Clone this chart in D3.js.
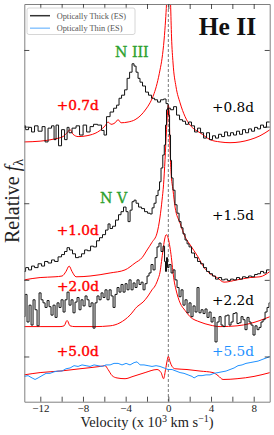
<!DOCTYPE html>
<html>
<head>
<meta charset="utf-8">
<script src="https://cdn.jsdelivr.net/npm/d3@7"></script>
<style>
  html, body { margin: 0; padding: 0; background: #fff; }
  svg { display: block; }
</style>
</head>
<body>
<div id="chart"></div>
<script>
// velocity in 10^3 km/s, relative flux (offset per epoch)
const thick08 = [[-13.52,4.01],[-13.24,3.96],[-12.96,3.99],[-12.68,3.93],[-12.40,4.01],[-12.02,3.94],[-11.65,4.00],[-11.46,3.80],[-11.09,3.98],[-10.80,4.01],[-10.62,3.83],[-10.43,4.02],[-10.15,3.75],[-9.87,3.96],[-9.58,3.83],[-9.40,3.99],[-9.21,3.92],[-8.84,3.98],[-8.46,4.01],[-8.18,3.89],[-7.80,4.02],[-7.52,3.93],[-7.15,4.00],[-6.87,4.03],[-6.40,4.02],[-6.12,3.95],[-5.93,3.89],[-5.65,4.13],[-5.27,4.19],[-4.99,4.24],[-4.71,4.28],[-4.53,4.37],[-4.24,4.41],[-3.96,4.48],[-3.77,4.63],[-3.49,4.71],[-3.31,4.82],[-3.12,4.79],[-2.93,4.71],[-2.75,4.63],[-2.56,4.58],[-2.28,4.53],[-2.00,4.45],[-1.72,4.41],[-1.43,4.37],[-1.15,4.35],[-0.87,4.32],[-0.59,4.35],[-0.31,4.36],[-0.12,4.30],[0.07,4.24],[0.35,4.22],[0.63,4.26],[0.91,4.15],[1.19,4.09],[1.47,4.07],[1.75,4.03],[2.03,4.06],[2.31,4.01],[2.60,3.93],[2.88,3.98],[3.16,3.92],[3.44,3.85],[3.72,3.92],[4.00,3.83],[4.28,3.88],[4.56,3.85],[4.85,3.90],[5.13,3.87],[5.41,3.93],[5.69,3.88],[5.97,3.92],[6.25,3.89],[6.53,3.94],[6.82,3.90],[7.09,3.96],[7.38,3.92],[7.66,3.97],[7.94,3.94],[8.22,3.99],[8.50,3.97],[8.78,4.02],[9.06,3.99],[9.34,4.06],[9.53,4.06]];

const model07 = [[-13.52,3.80],[-12.02,3.81],[-10.62,3.84],[-9.87,3.87],[-9.49,3.92],[-9.21,3.96],[-8.93,3.90],[-8.46,3.87],[-7.34,3.89],[-6.40,3.95],[-5.93,4.01],[-5.65,4.06],[-5.37,4.03],[-4.99,4.05],[-4.71,4.09],[-4.43,4.05],[-3.77,4.06],[-3.12,4.09],[-2.56,4.15],[-2.09,4.23],[-1.72,4.31],[-1.34,4.43],[-1.06,4.56],[-0.78,4.74],[-0.59,4.89],[-0.40,5.13],[-0.26,5.39],[-0.17,5.60],[0,6.2],[0.21,5.60],[0.30,5.17],[0.44,4.83],[0.72,4.52],[1.10,4.31],[1.57,4.13],[2.03,4.02],[2.50,3.96],[2.97,3.92],[3.91,3.83],[4.85,3.80],[5.78,3.79],[6.72,3.80],[7.66,3.83],[8.59,3.88],[9.53,3.96]];

const thick15 = [[-13.52,2.11],[-13.24,2.16],[-12.96,2.13],[-12.68,2.18],[-12.40,2.16],[-12.02,2.21],[-11.74,2.18],[-11.46,2.24],[-11.09,2.22],[-10.80,2.26],[-10.52,2.24],[-10.15,2.30],[-9.87,2.33],[-9.59,2.37],[-9.40,2.42],[-9.12,2.39],[-8.84,2.34],[-8.56,2.29],[-8.28,2.30],[-7.99,2.34],[-7.71,2.39],[-7.43,2.38],[-7.15,2.44],[-6.87,2.43],[-6.59,2.51],[-6.31,2.55],[-6.03,2.59],[-5.74,2.65],[-5.56,2.73],[-5.37,2.67],[-5.09,2.70],[-4.81,2.78],[-4.53,2.85],[-4.34,2.89],[-4.06,2.95],[-3.87,2.89],[-3.68,2.76],[-3.49,2.91],[-3.31,3.02],[-3.12,3.04],[-2.93,3.00],[-2.65,2.95],[-2.37,2.93],[-2.09,2.89],[-1.81,2.87],[-1.62,2.86],[-1.43,2.94],[-1.25,3.00],[-1.06,3.10],[-0.87,3.17],[-0.78,3.28],[-0.59,3.46],[-0.45,3.63],[-0.31,3.76],[-0.22,4.02],[-0.12,4.22],[-0.03,4.24],[0.07,4.15],[0.16,3.89],[0.25,3.56],[0.35,3.33],[0.53,3.17],[0.72,2.98],[0.91,2.87],[1.10,2.76],[1.28,2.68],[1.47,2.60],[1.66,2.52],[1.85,2.47],[2.03,2.43],[2.31,2.35],[2.60,2.29],[2.88,2.24],[3.16,2.21],[3.44,2.16],[3.72,2.11],[4.00,2.08],[4.28,2.05],[4.56,2.01],[4.85,2.03],[5.13,2.00],[5.41,2.01],[5.69,1.99],[5.97,2.01],[6.25,2.00],[6.53,2.03],[6.82,2.01],[7.09,2.04],[7.38,2.03],[7.66,2.05],[7.94,2.04],[8.22,2.07],[8.50,2.08],[8.78,2.11],[9.06,2.09],[9.34,2.13],[9.53,2.13]];

const model10 = [[-13.52,2.00],[-12.02,2.03],[-10.62,2.04],[-9.96,2.05],[-9.59,2.11],[-9.30,2.18],[-9.03,2.11],[-8.65,2.04],[-7.34,2.05],[-5.46,2.09],[-4.06,2.13],[-3.12,2.22],[-2.46,2.29],[-1.99,2.39],[-1.53,2.49],[-1.06,2.61],[-0.78,2.82],[-0.59,3.04],[-0.45,3.24],[-0.31,3.57],[-0.17,3.96],[-0.07,4.19],[0,4.28],[0.07,4.19],[0.16,3.70],[0.25,3.41],[0.44,3.17],[0.63,2.95],[1.10,2.74],[1.57,2.56],[2.03,2.46],[2.78,2.30],[3.35,2.16],[3.91,2.08],[4.56,2.03],[5.22,1.97],[6.44,2.00],[7.66,2.03],[8.59,2.04],[9.53,2.11]];

const thick22 = [[-13.52,1.52],[-13.34,1.81],[-13.15,1.45],[-12.96,1.67],[-12.77,1.41],[-12.59,1.74],[-12.40,1.61],[-12.21,1.40],[-12.02,1.83],[-11.84,1.74],[-11.65,1.70],[-11.46,1.64],[-11.27,1.73],[-11.09,1.65],[-10.90,1.54],[-10.71,1.67],[-10.52,1.51],[-10.34,1.70],[-10.15,1.64],[-9.96,1.74],[-9.77,1.58],[-9.59,1.74],[-9.40,1.84],[-9.21,1.67],[-9.03,1.74],[-8.84,1.57],[-8.65,1.71],[-8.46,1.77],[-8.28,1.61],[-8.09,1.74],[-7.90,1.66],[-7.71,1.79],[-7.53,1.74],[-7.34,1.65],[-7.15,1.70],[-6.96,1.37],[-6.78,1.70],[-6.59,1.79],[-6.40,1.74],[-6.21,1.83],[-6.03,1.77],[-5.84,1.87],[-5.65,1.74],[-5.46,1.87],[-5.27,1.79],[-5.09,1.64],[-4.90,1.81],[-4.71,1.90],[-4.53,1.84],[-4.34,1.94],[-4.15,1.84],[-3.96,1.95],[-3.78,1.87],[-3.59,2.00],[-3.40,1.87],[-3.21,1.96],[-3.03,1.90],[-2.84,2.00],[-2.65,1.94],[-2.46,1.97],[-2.28,1.87],[-2.09,1.95],[-1.90,2.05],[-1.72,2.09],[-1.53,2.20],[-1.34,2.13],[-1.15,2.29],[-0.97,2.43],[-0.78,2.48],[-0.59,2.37],[-0.40,2.44],[-0.31,2.24],[-0.22,2.11],[-0.12,2.29],[-0.03,2.16],[0.16,2.20],[0.35,2.09],[0.53,2.13],[0.72,2.00],[0.91,1.90],[1.10,1.78],[1.28,1.87],[1.47,1.67],[1.66,1.74],[1.85,1.57],[2.03,1.70],[2.22,1.52],[2.41,1.66],[2.60,1.58],[2.78,1.90],[2.97,1.57],[3.16,1.61],[3.35,1.56],[3.53,1.62],[3.72,1.51],[3.91,1.58],[4.10,1.45],[4.28,1.51],[4.47,1.19],[4.66,1.45],[4.85,1.52],[5.03,1.41],[5.22,1.39],[5.41,1.53],[5.60,1.54],[5.78,1.41],[5.97,1.45],[6.16,1.56],[6.34,1.57],[6.53,1.43],[6.72,1.44],[6.91,1.52],[7.09,1.48],[7.28,1.35],[7.47,1.51],[7.66,1.45],[7.84,1.41],[8.03,1.28],[8.22,1.40],[8.41,1.35],[8.59,1.38],[8.78,1.45],[8.97,1.48],[9.16,1.58],[9.34,1.64],[9.53,1.70]];

const model20 = [[-13.52,1.39],[-12.02,1.39],[-10.15,1.39],[-9.77,1.40],[-9.49,1.47],[-9.21,1.40],[-8.75,1.39],[-6.87,1.39],[-5.46,1.40],[-4.53,1.44],[-3.59,1.54],[-2.93,1.65],[-2.37,1.71],[-1.90,1.79],[-1.53,1.87],[-1.25,1.92],[-0.97,2.01],[-0.78,2.10],[-0.64,2.24],[-0.50,2.39],[-0.36,2.52],[-0.19,2.59],[-0.03,2.55],[0.11,2.46],[0.25,2.33],[0.39,2.16],[0.53,2.00],[0.72,1.87],[1.10,1.70],[1.57,1.60],[2.03,1.52],[2.97,1.45],[3.91,1.41],[4.85,1.39],[6.44,1.40],[7.66,1.43],[8.59,1.47],[9.53,1.52]];

const model50 = [[-13.52,0.76],[-12.02,0.79],[-10.15,0.81],[-8.28,0.84],[-6.40,0.87],[-5.93,0.88],[-5.65,0.83],[-5.27,0.75],[-4.81,0.72],[-4.06,0.71],[-3.31,0.74],[-2.18,0.79],[-1.06,0.83],[-0.68,0.79],[-0.45,0.71],[-0.26,0.83],[-0.12,0.94],[0,1.00],[0.16,0.93],[0.35,0.87],[0.63,0.84],[1.75,0.83],[2.97,0.81],[4.19,0.79],[4.66,0.75],[5.13,0.70],[6.44,0.71],[8.03,0.74],[9.53,0.79]];

const thin55 = [[-13.52,0.74],[-13.15,0.75],[-12.77,0.72],[-12.49,0.70],[-12.21,0.72],[-11.84,0.75],[-11.46,0.78],[-11.09,0.78],[-10.71,0.80],[-10.34,0.81],[-9.96,0.81],[-9.59,0.84],[-9.21,0.85],[-8.84,0.88],[-8.46,0.87],[-8.09,0.89],[-7.71,0.88],[-7.34,0.87],[-6.96,0.89],[-6.59,0.88],[-6.21,0.87],[-5.84,0.89],[-5.46,0.89],[-5.09,0.91],[-4.71,0.91],[-4.34,0.89],[-3.96,0.91],[-3.59,0.89],[-3.21,0.92],[-2.93,0.93],[-2.65,0.89],[-2.28,0.89],[-1.90,0.88],[-1.53,0.87],[-1.15,0.88],[-0.78,0.87],[-0.40,0.85],[-0.03,0.83],[0.35,0.83],[0.72,0.81],[1.10,0.79],[1.47,0.78],[1.85,0.76],[2.22,0.74],[2.41,0.72],[2.78,0.75],[3.16,0.75],[3.53,0.76],[3.91,0.76],[4.28,0.78],[4.66,0.79],[5.03,0.80],[5.41,0.81],[5.78,0.83],[6.16,0.85],[6.53,0.88],[6.91,0.89],[7.28,0.91],[7.66,0.92],[8.03,0.93],[8.41,0.94],[8.78,0.96],[9.16,0.98],[9.53,1.00]];

const xTicks = [-12, -10, -8, -6, -4, -2, 0, 2, 4, 6, 8];
const xTickLabels = [-12, -8, -4, 0, 4, 8];
const yTicks = [1, 2, 3, 4, 5];

const legendItems = [
  {label: "Optically Thick (ES)", color: "#333"},
  {label: "Optically Thin (ES)", color: "#8cc6ff"}
];

// epoch labels [text, velocity, flux, colour]
const epochLabels = [
  ["+0.7d", -10.46, 4.22, "red"],
  ["+0.8d", 4.10, 4.19, "black"],
  ["+1.0d", -10.46, 2.59, "red"],
  ["+1.5d", 4.10, 2.78, "black"],
  ["+2.0d", -10.43, 1.86, "red"],
  ["+2.2d", 4.10, 1.67, "black"],
  ["+5.0d", -10.46, 1.00, "red"],
  ["+5.5d", 4.10, 1.01, "dodgerblue"]
];
const lineLabels = [["N III", -5.00, 4.91], ["N V", -6.40, 3.00]];

const width = 274, height = 435;
const margin = {top: 4, right: 4.3, bottom: 33.3, left: 24.3};

const x = d3.scaleLinear().domain([-13.5, 9.5]).range([margin.left, width - margin.right]);
const y = d3.scaleLinear().domain([0.41, 5.6]).range([height - margin.bottom, margin.top]);

const svg = d3.select('#chart').append('svg')
  .attr('width', width)
  .attr('height', height)
  .style('font-family', '"DejaVu Serif", serif');

svg.append('clipPath').attr('id', 'clip')
  .append('rect')
  .attr('x', margin.left).attr('y', margin.top)
  .attr('width', width - margin.left - margin.right)
  .attr('height', height - margin.top - margin.bottom);

const plot = svg.append('g').attr('clip-path', 'url(#clip)');

// zero velocity
plot.append('line')
  .attr('x1', x(0)).attr('x2', x(0))
  .attr('y1', margin.top).attr('y2', height - margin.bottom)
  .attr('stroke', '#555').attr('stroke-width', 0.8)
  .attr('stroke-dasharray', '3,2');

const stepLine = d3.line().x(d => x(d[0])).y(d => y(d[1])).curve(d3.curveStep);
const smoothLine = d3.line().x(d => x(d[0])).y(d => y(d[1])).curve(d3.curveMonotoneX);

[model07, model10, model20, model50].forEach(m => {
  plot.append('path').datum(m)
    .attr('fill', 'none').attr('stroke', 'red').attr('stroke-width', 1)
    .attr('d', smoothLine);
});

plot.append('path').datum(thin55)
  .attr('fill', 'none').attr('stroke', 'dodgerblue').attr('stroke-width', 1)
  .attr('d', d3.line().x(d => x(d[0])).y(d => y(d[1])));

[thick08, thick15, thick22].forEach(s => {
  plot.append('path').datum(s)
    .attr('fill', 'none').attr('stroke', '#111').attr('stroke-width', 1)
    .attr('d', stepLine);
});

// axes, ticks pointing in
const bottomAxis = d3.axisBottom(x).tickValues(xTicks).tickSize(-5).tickSizeOuter(0).tickPadding(3)
  .tickFormat(d => xTickLabels.includes(d) ? d3.format('d')(d) : '');
const topAxis = d3.axisTop(x).tickValues(xTicks).tickSize(-5).tickSizeOuter(0).tickFormat('');
const leftAxis = d3.axisLeft(y).tickValues(yTicks).tickSize(-5).tickSizeOuter(0).tickFormat('');
const rightAxis = d3.axisRight(y).tickValues(yTicks).tickSize(-5).tickSizeOuter(0).tickFormat('');

const gB = svg.append('g').attr('transform', `translate(0,${height - margin.bottom})`).call(bottomAxis);
const gT = svg.append('g').attr('transform', `translate(0,${margin.top})`).call(topAxis);
const gL = svg.append('g').attr('transform', `translate(${margin.left},0)`).call(leftAxis);
const gR = svg.append('g').attr('transform', `translate(${width - margin.right},0)`).call(rightAxis);

[gB, gT, gL, gR].forEach(g => {
  g.select('.domain').attr('stroke', '#808080').attr('stroke-width', 1);
  g.selectAll('.tick line').attr('stroke', '#222').attr('stroke-width', 0.8);
});
gB.selectAll('.tick text')
  .attr('font-family', '"Liberation Serif", serif')
  .attr('font-size', 11).attr('fill', '#222');

// axis titles
const xl = svg.append('text')
  .attr('x', (margin.left + width - margin.right) / 2)
  .attr('y', 426.7)
  .attr('text-anchor', 'middle')
  .attr('font-family', '"Liberation Serif", serif')
  .attr('font-size', 14.4).attr('fill', '#222');
xl.append('tspan').text('Velocity (x 10');
xl.append('tspan').attr('dy', -5).attr('font-size', 10).text('3');
xl.append('tspan').attr('dy', 5).text(' km s');
xl.append('tspan').attr('dy', -5).attr('font-size', 10).text('\u22121');
xl.append('tspan').attr('dy', 5).text(')');

const yl = svg.append('text')
  .attr('transform', `translate(18.5,${201}) rotate(-90)`)
  .attr('text-anchor', 'middle')
  .attr('font-family', '"Liberation Serif", serif')
  .attr('font-size', 20).attr('fill', '#222');
yl.append('tspan').text('Relative ');
yl.append('tspan').attr('font-style', 'italic').text('f');
yl.append('tspan').attr('dy', 4).attr('font-size', 14).text('\u03bb');

// labels
svg.append('g').selectAll('text').data(epochLabels).join('text')
  .attr('x', d => x(d[1])).attr('y', d => y(d[2]))
  .attr('font-size', 13.7)
  .attr('fill', d => d[3])
  .attr('stroke', d => d[3] === 'red' ? 'red' : 'none')
  .attr('stroke-width', 0.4)
  .text(d => d[0]);

svg.append('g').selectAll('text').data(lineLabels).join('text')
  .attr('x', d => x(d[1])).attr('y', d => y(d[2]))
  .attr('font-size', 14.2)
  .attr('fill', '#2ca02c')
  .attr('stroke', '#2ca02c').attr('stroke-width', 0.3)
  .text(d => d[0]);

svg.append('text')
  .attr('x', x(2.85)).attr('y', y(5.19))
  .attr('font-family', '"Liberation Serif", serif')
  .attr('font-weight', 'bold')
  .attr('font-size', 25.5)
  .attr('fill', '#111')
  .text('He II');

// legend
const legend = svg.append('g');
legend.append('rect')
  .attr('x', 27).attr('y', 8).attr('width', 108).attr('height', 26.5)
  .attr('rx', 2)
  .attr('fill', '#fff').attr('fill-opacity', 0.8)
  .attr('stroke', '#ccc').attr('stroke-width', 0.8);
const li = legend.selectAll('g').data(legendItems).join('g')
  .attr('transform', (d, i) => `translate(0,${15.7 + i * 12.5})`);
li.append('line')
  .attr('x1', 30).attr('x2', 50)
  .attr('stroke', d => d.color).attr('stroke-width', 1.5);
li.append('text')
  .attr('x', 56.7).attr('y', 2.8)
  .attr('font-family', '"Liberation Serif", serif')
  .attr('font-size', 8.3).attr('fill', '#555')
  .text(d => d.label);
</script>
</body>
</html>
